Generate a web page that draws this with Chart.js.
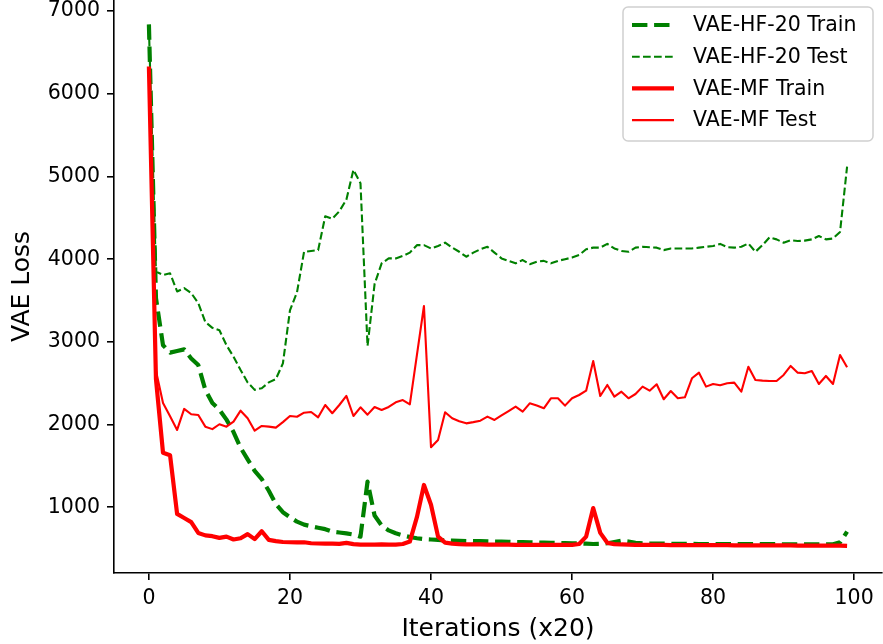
<!DOCTYPE html>
<html>
<head>
<meta charset="utf-8">
<script src="https://cdn.jsdelivr.net/npm/chart.js@4.4.1/dist/chart.umd.min.js"></script>
<style>
  html, body { margin: 0; padding: 0; background: #fff; }
  #wrap { width: 883px; height: 644px; }
</style>
</head>
<body>
<div id="wrap"><canvas id="LossChart" width="883" height="644"></canvas></div>
<script>
// x positions (iteration index, x20)
const iterations = Array.from({ length: 100 }, (_, i) => i);

// axis tick values
const xTicks = [0, 20, 40, 60, 80, 100];
const yTicks = [1000, 2000, 3000, 4000, 5000, 6000, 7000];

// VAE-HF-20 train loss
const hfTrain = [
  6840, 3530, 2960, 2870, 2890, 2910, 2800, 2720, 2420, 2260,
  2180, 2060, 1910, 1720, 1580, 1440, 1340, 1200, 1040, 940,
  880, 826, 790, 770, 752, 735, 705, 695, 685, 670,
  645, 1310, 900, 780, 720, 685, 660, 640, 625, 615,
  610, 605, 600, 598, 595, 592, 590, 590, 588, 586,
  585, 583, 580, 578, 576, 574, 572, 570, 568, 566,
  565, 563, 560, 556, 558, 565, 580, 596, 585, 570,
  565, 562, 560, 560, 558, 558, 557, 557, 556, 556,
  556, 555, 555, 555, 555, 554, 554, 554, 554, 553,
  553, 553, 553, 553, 552, 552, 552, 553, 575, 705,
];

// VAE-HF-20 test loss
const hfTest = [
  6800, 3850, 3810, 3830, 3610, 3650, 3590, 3470, 3240, 3170,
  3140, 2960, 2820, 2660, 2510, 2420, 2440, 2510, 2550, 2740,
  3380, 3600, 4090, 4100, 4110, 4520, 4490, 4580, 4720, 5080,
  4920, 2950, 3700, 3950, 4010, 4010, 4040, 4080, 4170, 4170,
  4130, 4160, 4200, 4140, 4090, 4030, 4080, 4120, 4150, 4080,
  4010, 3980, 3950, 3990, 3940, 3970, 3980, 3950, 3980, 4000,
  4020, 4050, 4120, 4140, 4140, 4185, 4130, 4100, 4090, 4140,
  4150, 4145, 4140, 4110, 4130, 4130, 4130, 4130, 4140, 4150,
  4160, 4185, 4145, 4140, 4150, 4190, 4090, 4170, 4265, 4240,
  4200, 4230, 4220, 4225, 4240, 4280, 4240, 4250, 4330, 5120,
];

// VAE-MF train loss
const mfTrain = [
  6330, 2550, 1660, 1630, 920, 870, 820, 690, 660, 650,
  630, 645, 610, 625, 675, 615, 710, 605, 590, 580,
  577, 575, 577, 565, 562, 560, 560, 558, 570, 555,
  548, 548, 548, 550, 548, 548, 556, 585, 880, 1270,
  1030, 645, 572, 560, 555, 552, 550, 550, 548, 548,
  547, 547, 546, 546, 546, 545, 545, 545, 546, 545,
  545, 556, 645, 990, 690, 570, 555, 550, 548, 546,
  545, 545, 544, 544, 543, 543, 543, 542, 542, 542,
  541, 541, 541, 540, 540, 540, 539, 539, 539, 538,
  538, 538, 537, 537, 537, 536, 536, 535, 535, 532,
];

// VAE-MF test loss
const mfTest = [
  6300, 2650, 2260, 2100, 1935, 2190, 2125, 2116, 1975, 1945,
  2004, 1975, 2035, 2168, 2076, 1926, 1983, 1975, 1963, 2030,
  2104, 2095, 2144, 2152, 2088, 2237, 2137, 2237, 2346, 2104,
  2209, 2120, 2213, 2177, 2213, 2270, 2297, 2245, 2840, 3434,
  1725, 1814, 2149, 2076, 2040, 2015, 2030, 2047, 2096, 2056,
  2110, 2164, 2217, 2156, 2257, 2230, 2197, 2318, 2318, 2229,
  2318, 2358, 2410, 2769, 2346, 2479, 2338, 2398, 2318, 2370,
  2459, 2410, 2487, 2306, 2406, 2318, 2330, 2560, 2628, 2459,
  2491, 2475, 2499, 2507, 2398, 2700, 2539, 2532, 2528, 2527,
  2600, 2709, 2628, 2620, 2648, 2491, 2588, 2491, 2842, 2693,
];

const FONT = "'DejaVu Sans', 'Liberation Sans', sans-serif";

function toPoints(values) {
  return values.map((v, i) => ({ x: iterations[i], y: v }));
}

// legend box drawn inside the plot, upper right
const boxLegend = {
  id: "boxLegend",
  afterDraw(chart) {
    const ctx = chart.ctx;
    const sets = chart.data.datasets;
    const left = 623, top = 7, w = 250, h = 134;
    ctx.save();
    ctx.beginPath();
    ctx.roundRect(left, top, w, h, 5);
    ctx.fillStyle = "rgba(255,255,255,0.8)";
    ctx.fill();
    ctx.lineWidth = 1.5;
    ctx.strokeStyle = "#d0d0d0";
    ctx.stroke();
    ctx.font = "20.5px " + FONT;
    ctx.textBaseline = "middle";
    ctx.fillStyle = "#000";
    sets.forEach((ds, k) => {
      const y = 25 + k * 31.7;
      ctx.beginPath();
      ctx.setLineDash(ds.borderDash || []);
      ctx.lineWidth = ds.borderWidth;
      ctx.strokeStyle = ds.borderColor;
      ctx.moveTo(632, y);
      ctx.lineTo(674, y);
      ctx.stroke();
      ctx.setLineDash([]);
      ctx.fillText(ds.label, 693, y + 1);
    });
    ctx.restore();
  },
};

const CHART_LOSS = document.getElementById("LossChart");

if (CHART_LOSS != null) {
  let chart_loss = new Chart(CHART_LOSS, {
    type: "line",
    data: {
      datasets: [
        {
          label: "VAE-HF-20 Train",
          data: toPoints(hfTrain),
          borderColor: "#008000",
          borderWidth: 4.2,
          borderDash: [15.4, 6.7],
          order: 4,
        },
        {
          label: "VAE-HF-20 Test",
          data: toPoints(hfTest),
          borderColor: "#008000",
          borderWidth: 2.1,
          borderDash: [7.7, 3.3],
          order: 3,
        },
        {
          label: "VAE-MF Train",
          data: toPoints(mfTrain),
          borderColor: "#ff0000",
          borderWidth: 4.2,
          order: 2,
        },
        {
          label: "VAE-MF Test",
          data: toPoints(mfTest),
          borderColor: "#ff0000",
          borderWidth: 2.1,
          order: 1,
        },
      ],
    },
    options: {
      responsive: false,
      animation: false,
      events: [],
      layout: { padding: { top: 0, right: 1, bottom: 0, left: 0 } },
      elements: {
        point: { radius: 0 },
        line: { tension: 0, fill: false, borderJoinStyle: "round", borderCapStyle: "butt" },
      },
      plugins: {
        legend: { display: false },
        tooltip: { enabled: false },
      },
      scales: {
        x: {
          type: "linear",
          min: -4.95,
          max: 103.95,
          afterBuildTicks: (s) => { s.ticks = xTicks.map((v) => ({ value: v })); },
          afterFit: (s) => { s.height = 71; s.paddingLeft = 0; s.paddingRight = 0; },
          grid: { drawOnChartArea: false, drawTicks: true, tickLength: 7, color: "#000", lineWidth: 1.6 },
          border: { display: true, color: "#000", width: 1.6 },
          ticks: { color: "#000", padding: 6, maxRotation: 0, font: { family: FONT, size: 20.5 },
            callback: (v) => String(v) },
          title: {
            display: true,
            text: "Iterations (x20)",
            color: "#000",
            padding: { top: 0, bottom: 0 },
            font: { family: FONT, size: 25 },
          },
        },
        y: {
          min: 205,
          max: 7135,
          afterBuildTicks: (s) => { s.ticks = yTicks.map((v) => ({ value: v })); },
          afterFit: (s) => { s.width = 114; s.paddingTop = 0; s.paddingBottom = 0; },
          grid: { drawOnChartArea: false, drawTicks: true, tickLength: 7, color: "#000", lineWidth: 1.6 },
          border: { display: true, color: "#000", width: 1.6 },
          ticks: { color: "#000", padding: 7, font: { family: FONT, size: 20.5 },
            callback: (v) => String(v) },
          title: {
            display: true,
            text: "VAE Loss",
            color: "#000",
            padding: { top: 7, bottom: 0 },
            font: { family: FONT, size: 25 },
          },
        },
      },
    },
    plugins: [boxLegend],
  });
}
</script>
</body>
</html>
